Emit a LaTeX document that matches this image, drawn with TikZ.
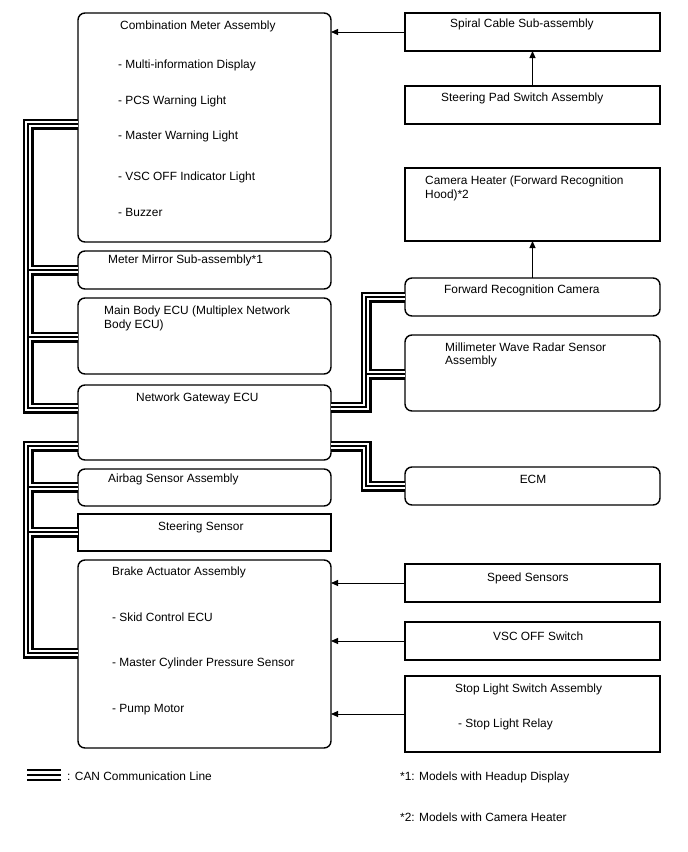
\documentclass[tikz,border=0pt]{standalone}
\usepackage{fontspec}
\setmainfont{Liberation Sans}
\usetikzlibrary{arrows.meta}
\begin{document}
\begin{tikzpicture}[x=1pt,y=-1pt,
 rbox/.style={draw, line width=1.4pt, rounded corners=7pt, inner sep=0pt, outer sep=0pt, anchor=north west},
 sbox/.style={draw, line width=1.4pt, inner sep=0pt, outer sep=0pt, anchor=north west},
 lw/.style={minimum width=253pt},
 rw/.style={minimum width=255pt},
 lbl/.style={anchor=west, inner sep=0pt, font=\fontsize{11.9}{13.5}\selectfont},
 can/.style={line width=11pt, postaction={draw=white,line width=5.2pt}, postaction={draw=black,line width=1.4pt}},
 arr/.style={-{Triangle[length=7pt,width=6pt]}, line width=1pt}]
\useasboundingbox (0,0) rectangle (688,852);
% left boxes
\node[rbox,lw,minimum height=229pt] (comb) at (78,13) {};
\node[rbox,lw,minimum height=38pt] (mirror) at (78,251) {};
\node[rbox,lw,minimum height=76pt] (main) at (78,298) {};
\node[rbox,lw,minimum height=75pt] (gw) at (78,385) {};
\node[rbox,lw,minimum height=37pt] (airbag) at (78,469) {};
\node[sbox,lw,minimum height=37pt] (steer) at (78,514) {};
\node[rbox,lw,minimum height=188pt] (brake) at (78,560) {};
% right boxes
\node[sbox,rw,minimum height=38pt] (spiral) at (405,13) {};
\node[sbox,rw,minimum height=38pt] (pad) at (405,86) {};
\node[sbox,rw,minimum height=73pt] (heater) at (405,168) {};
\node[rbox,rw,minimum height=38pt] (fwd) at (405,278) {};
\node[rbox,rw,minimum height=76pt] (mmw) at (405,335) {};
\node[rbox,rw,minimum height=38pt] (ecm) at (405,467) {};
\node[sbox,rw,minimum height=38pt] (speed) at (405,564) {};
\node[sbox,rw,minimum height=38pt] (vsc) at (405,622) {};
\node[sbox,rw,minimum height=76pt] (stop) at (405,676) {};
% CAN lines
\draw[can]
 (comb.west |- 0,124) -| (28,408) -- (gw.west |- 0,408)
 (28,270) -- (mirror.west |- 0,270)
 (28,337) -- (main.west |- 0,337)
 (gw.west |- 0,446) -| (28,653) -- (brake.west |- 0,653)
 (28,487) -- (airbag.west |- 0,487)
 (28,532) -- (steer.west |- 0,532)
 (gw.east |- 0,407) -| (366,297) -- (fwd.west |- 0,297)
 (366,374) -- (mmw.west |- 0,374)
 (gw.east |- 0,446) -| (366,486) -- (ecm.west);
% arrows
\draw[arr] (spiral.west) -- (comb.east |- spiral.west);
\draw[arr] (pad.north) -- (spiral.south);
\draw[arr] (fwd.north) -- (heater.south);
\draw[arr] (speed.west) -- (brake.east |- speed.west);
\draw[arr] (vsc.west) -- (brake.east |- vsc.west);
\draw[arr] (stop.west) -- (brake.east |- stop.west);
% texts left
\node[lbl] (t1) at (120,26) {Combination Meter Assembly};
\node[lbl] (t2) at (118,65) {- Multi-information Display};
\node[lbl] (t3) at (118,101) {- PCS Warning Light};
\node[lbl] (t4) at (118,136) {- Master Warning Light};
\node[lbl] (t5) at (118,177) {- VSC OFF Indicator Light};
\node[lbl] (t6) at (118,212) {- Buzzer};
\node[lbl] (t7) at (108,260) {Meter Mirror Sub-assembly*1};
\node[lbl] (t8) at (104,311) {Main Body ECU (Multiplex Network};
\node[lbl] (t9) at (104,325) {Body ECU)};
\node[lbl] (t10) at (136,398) {Network Gateway ECU};
\node[lbl] (t11) at (108,479) {Airbag Sensor Assembly};
\node[lbl] (t12) at (158,527) {Steering Sensor};
\node[lbl] (t13) at (112,572) {Brake Actuator Assembly};
\node[lbl] (t14) at (112,617) {- Skid Control ECU};
\node[lbl] (t15) at (112,663) {- Master Cylinder Pressure Sensor};
\node[lbl] (t16) at (112,710) {- Pump Motor};
% texts right
\node[lbl] (t17) at (450,24) {Spiral Cable Sub-assembly};
\node[lbl] (t18) at (441,98) {Steering Pad Switch Assembly};
\node[lbl] (t19) at (425,181) {Camera Heater (Forward Recognition};
\node[lbl] (t20) at (425,195) {Hood)*2};
\node[lbl] (t21) at (444,290) {Forward Recognition Camera};
\node[lbl] (t22) at (445,347) {Millimeter Wave Radar Sensor};
\node[lbl] (t23) at (445,361) {Assembly};
\node[lbl,anchor=center] (t24) at (533,479) {ECM};
\node[lbl] (t25) at (487,578) {Speed Sensors};
\node[lbl] (t26) at (493,636) {VSC OFF Switch};
\node[lbl] (t27) at (455,689) {Stop Light Switch Assembly};
\node[lbl] (t28) at (458,724) {- Stop Light Relay};
% legend
\coordinate (la) at (27,770); \coordinate (lb) at (61,770);
\draw[line width=2.8pt] (la) -- (lb) ([yshift=-5pt]la) -- ([yshift=-5pt]lb) ([yshift=-10pt]la) -- ([yshift=-10pt]lb);
\node[lbl] (t29) at (67,776) {: CAN Communication Line};
\node[lbl] (t30) at (400,777) {*1: Models with Headup Display};
\node[lbl] (t31) at (400,817) {*2: Models with Camera Heater};
\end{tikzpicture}
\end{document}
